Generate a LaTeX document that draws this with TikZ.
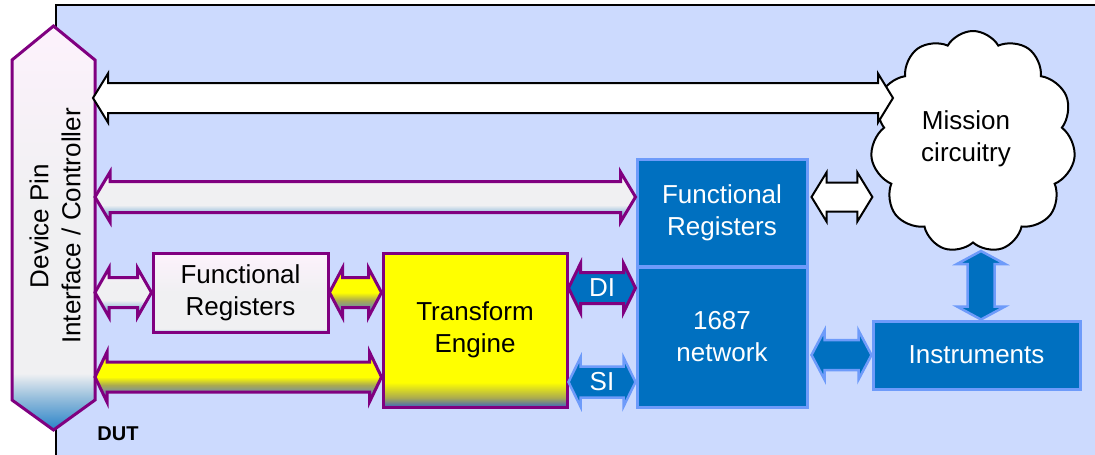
\documentclass[tikz,border=0pt]{standalone}
\usepackage{fontspec}
\setmainfont{Liberation Sans}
\usetikzlibrary{calc,shapes.symbols}
\definecolor{bg}{RGB}{204,218,254}
\definecolor{pbl}{RGB}{128,0,128}
\definecolor{dblue}{RGB}{0,112,192}
\definecolor{lblue}{RGB}{110,155,250}
\definecolor{pinkw}{RGB}{253,242,252}
\definecolor{greyw}{RGB}{240,240,242}
\definecolor{sky}{RGB}{150,190,220}
\definecolor{deepsky}{RGB}{40,130,200}
\definecolor{steel}{RGB}{110,140,170}
\definecolor{olive}{RGB}{170,170,80}
\definecolor{yel}{RGB}{255,255,0}
\definecolor{tebot}{RGB}{60,100,190}
\pgfdeclareverticalshading{pinshade}{100bp}{color(0bp)=(deepsky); color(25bp)=(deepsky); color(29bp)=(sky); color(32bp)=(greyw); color(53bp)=(greyw); color(75bp)=(pinkw); color(100bp)=(pinkw)}
\pgfdeclareverticalshading{lightarr}{100bp}{color(0bp)=(sky); color(25bp)=(sky); color(34bp)=(sky); color(42bp)=(greyw); color(60bp)=(greyw); color(75bp)=(pinkw); color(100bp)=(pinkw)}
\pgfdeclareverticalshading{yelarr}{100bp}{color(0bp)=(steel); color(25bp)=(steel); color(34bp)=(steel); color(42bp)=(olive); color(50bp)=(yel); color(75bp)=(yel); color(100bp)=(yel)}
\pgfdeclareverticalshading{teshade}{100bp}{color(0bp)=(tebot); color(25bp)=(tebot); color(28bp)=(olive); color(33bp)=(yel); color(75bp)=(yel); color(100bp)=(yel)}
\pgfdeclareverticalshading{frshade}{100bp}{color(0bp)=(sky); color(25bp)=(sky); color(27bp)=(greyw); color(50bp)=(greyw); color(75bp)=(pinkw); color(100bp)=(pinkw)}
% horizontal double block arrow: style, left tip, right tip, half shaft, half head, head length
\newcommand\harrowpath[6]{\path[#1] (#2) -- ($(#2)+(#6,-#5)$) -- ($(#2)+(#6,-#4)$) -- ($(#3)+(-#6,-#4)$) -- ($(#3)+(-#6,-#5)$) -- (#3) -- ($(#3)+(-#6,#5)$) -- ($(#3)+(-#6,#4)$) -- ($(#2)+(#6,#4)$) -- ($(#2)+(#6,#5)$) -- cycle;}
% vertical double block arrow: style, top tip, bottom tip, half shaft, half head, head length
\newcommand\varrowpath[6]{\path[#1] (#2) -- ($(#2)+(-#5,#6)$) -- ($(#2)+(-#4,#6)$) -- ($(#3)+(-#4,-#6)$) -- ($(#3)+(-#5,-#6)$) -- (#3) -- ($(#3)+(#5,-#6)$) -- ($(#3)+(#4,-#6)$) -- ($(#2)+(#4,#6)$) -- ($(#2)+(#5,#6)$) -- cycle;}
\tikzset{
  lbl/.style={font=\fontsize{26}{32}\selectfont, align=center},
  whitearr/.style={fill=white, draw=black, line width=2pt},
  lightarrow/.style={draw=pbl, line width=3pt, shade, shading=lightarr},
  yelarrow/.style={draw=pbl, line width=3pt, shade, shading=yelarr},
  diarrow/.style={fill=dblue, draw=pbl, line width=3pt},
  bluearrow/.style={fill=dblue, draw=lblue, line width=2.5pt},
  bluebox/.style={lbl, fill=dblue, draw=lblue, line width=3pt, text=white, inner sep=0pt},
}
\begin{document}
\begin{tikzpicture}[x=1pt,y=-1pt]
\useasboundingbox (0,0) rectangle (1095,455);
\clip (0,0) rectangle (1095,455);
% DUT background
\path[fill=bg, draw=black, line width=1.5pt] (56,5) rectangle (1120,480);
\node[lbl, font=\bfseries\fontsize{20}{24}\selectfont] (dut) at (118,434) {DUT};
% device pin hexagon
\node[minimum width=83pt, minimum height=404pt, inner sep=0pt, outer sep=0pt] (pin) at (53.5,228) {};
\path[draw=pbl, line width=3pt, shade, shading=pinshade, line join=miter]
  (pin.north) -- (pin.north east |- 0,60) -- (pin.south east |- 0,400) -- (pin.south)
  -- (pin.south west |- 0,400) -- (pin.north west |- 0,60) -- cycle;
\node[lbl, rotate=90] (pintext) at (55,226) {Device Pin\\Interface / Controller};
% boxes
\node[lbl, draw=pbl, line width=3pt, shade, shading=frshade, minimum width=175pt, minimum height=79pt, inner sep=0pt] (fr1) at (240.5,292.5) {Functional\\Registers};
\node[lbl, draw=pbl, line width=3pt, shade, shading=teshade, minimum width=184pt, minimum height=154pt, inner sep=0pt] (te) at (475,330) {Transform\\Engine};
\node[bluebox, minimum width=170pt, minimum height=107pt] (fr2) at (722,212.5) {Functional\\Registers};
\node[bluebox, minimum width=170pt, minimum height=140pt] (net) at (722,337) {1687\\network};
\node[bluebox, minimum width=207pt, minimum height=68pt] (ins) at (976.5,355) {Instruments};
\node[cloud, cloud puffs=11, cloud puff arc=120, aspect=0.95, draw=black, fill=white, line width=2pt, minimum width=205pt, minimum height=222pt, inner sep=0pt] (cloud) at (973,142) {};
\node[lbl] (mission) at (966,139) {Mission\\circuitry};
% connectors
\coordinate (cl) at (893,98);
\harrowpath{whitearr}{[xshift=-2pt]pin.east |- 0,98}{cl}{15}{24.5}{15}
\harrowpath{lightarrow}{pin.east |- 0,197}{fr2.west |- 0,197}{15.5}{25}{15}
\harrowpath{lightarrow}{pin.east |- fr1.west}{fr1.west}{15}{24.5}{14}
\harrowpath{yelarrow}{fr1.east}{te.west |- fr1.east}{15}{24.5}{13}
\harrowpath{yelarrow}{pin.east |- 0,377}{te.west |- 0,377}{15}{25}{12}
\harrowpath{diarrow}{te.east |- 0,288}{net.west |- 0,288}{15.5}{24.5}{12}
\harrowpath{bluearrow}{te.east |- 0,382}{net.west |- 0,382}{15.5}{24.5}{12}
\harrowpath{whitearr}{[xshift=3pt]fr2.east |- 0,197}{cloud.west |- 0,197}{14.5}{24.5}{15}
\harrowpath{bluearrow}{[xshift=3pt]net.east |- ins.west}{ins.west}{15}{24.5}{13}
\varrowpath{bluearrow}{[xshift=4.5pt]ins.north |- 0,251}{[xshift=4.5pt]ins.north}{13.5}{24}{13}
\node[lbl, text=white] (di) at (602,288) {DI};
\node[lbl, text=white] (si) at (602,382) {SI};
\end{tikzpicture}
\end{document}
